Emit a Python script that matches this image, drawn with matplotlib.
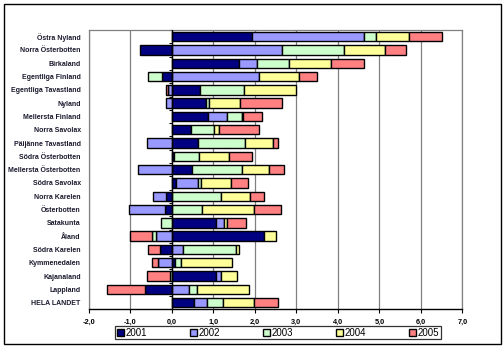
import numpy as np
import matplotlib
matplotlib.use("Agg")
import matplotlib.pyplot as plt
from matplotlib import ticker
from matplotlib.patches import Rectangle

# regioner, uppifran och ner
regioner = ["Östra Nyland", "Norra Österbotten", "Birkaland", "Egentliga Finland",
            "Egentliga Tavastland", "Nyland", "Mellersta Finland", "Norra Savolax",
            "Päijänne Tavastland", "Södra Österbotten", "Mellersta Österbotten",
            "Södra Savolax", "Norra Karelen", "Österbotten", "Satakunta", "Åland",
            "Södra Karelen", "Kymmenedalen", "Kajanaland", "Lappland", "HELA LANDET"]

ar = ["2001", "2002", "2003", "2004", "2005"]

v2001 = [1.93, -0.77, 1.62, -0.23, 0.68, 0.83, 0.87, 0.46, 0.63, 0.05, 0.49,
         0.10, -0.14, -0.16, 1.07, 2.23, -0.28, 0.08, 1.05, -0.65, 0.52]
v2002 = [2.70, 2.65, 0.43, 2.09, -0.10, -0.15, 0.46, 0.00, -0.60, 0.00, -0.82,
         0.52, -0.31, -0.88, 0.18, -0.38, 0.27, -0.33, 0.14, 0.40, 0.33]
v2003 = [0.30, 1.50, 0.77, -0.34, 1.06, 0.06, 0.35, 0.55, 1.14, 0.60, 1.21,
         0.07, 1.19, 0.73, -0.27, -0.10, 1.28, 0.14, -0.05, 0.21, 0.37]
v2004 = [0.79, 0.99, 1.01, 0.97, 1.26, 0.75, 0.03, 0.12, 0.67, 0.72, 0.65,
         0.74, 0.68, 1.26, 0.07, 0.29, 0.07, 1.22, 0.37, 1.24, 0.75]
v2005 = [0.79, 0.51, 0.80, 0.44, -0.04, 1.01, 0.47, 0.97, 0.12, 0.55, 0.34,
         0.41, 0.36, 0.63, 0.47, -0.54, -0.30, -0.15, -0.56, -0.91, 0.58]

farger = ["#000080", "#9999FF", "#CCFFCC", "#FFFF99", "#FF8080"]

plt.rcParams['font.family'] = ['Liberation Sans', 'DejaVu Sans']

fig = plt.figure(figsize=(5.04, 3.49), dpi=100)
ax = fig.add_axes([89 / 504, 1 - 309.3 / 349, (462.3 - 89) / 504, (309.3 - 30) / 349])

y = np.arange(len(regioner))
pos = np.zeros(len(regioner))
neg = np.zeros(len(regioner))
for serie, farg, namn in zip([v2001, v2002, v2003, v2004, v2005], farger, ar):
    v = np.array(serie)
    start = np.where(v >= 0, pos, neg)
    ax.barh(y, v, left=start, height=0.7, color=farg, edgecolor='black',
            linewidth=1.0, label=namn, zorder=3)
    pos = pos + np.where(v >= 0, v, 0)
    neg = neg + np.where(v < 0, v, 0)

ax.set_xlim(-2, 7)
ax.set_ylim(len(regioner) - 0.5, -0.5)
ax.set_xticks(np.arange(-2, 8, 1))
ax.xaxis.set_major_formatter(ticker.FuncFormatter(lambda x, p: f"{x:.1f}".replace('.', ',')))
ax.tick_params(axis='x', direction='out', length=3, width=0.8, pad=4, labelsize=5.3)
for lbl in ax.get_xticklabels():
    lbl.set_fontweight('bold')

ax.set_yticks(y)
ax.set_yticklabels(regioner, fontsize=5.0, fontweight='bold', color='#1a1a2e')
ax.tick_params(axis='y', length=0, pad=6)

ax.grid(axis='x', color='#808080', linewidth=0.9, zorder=0)
for s in ['left', 'top', 'right']:
    ax.spines[s].set_color('#808080')
    ax.spines[s].set_linewidth(0.9)
ax.spines['bottom'].set_color('black')
ax.spines['bottom'].set_linewidth(1.0)

# kategoriaxeln vid 0
ax.axvline(0, color='black', linewidth=1.0, zorder=4)
sek = ax.secondary_yaxis(2 / 9)
sek.set_yticks(np.arange(len(regioner) + 1) - 0.5)
sek.set_yticklabels([])
sek.tick_params(axis='y', direction='out', length=2, width=0.8, color='black')
sek.spines['left'].set_visible(False)

leg = fig.legend(loc='center', bbox_to_anchor=(278 / 504, 1 - 332.5 / 349), ncol=5,
                 fontsize=7, frameon=True, fancybox=False, edgecolor='black',
                 handlelength=0.7, handleheight=0.7, handletextpad=0.2,
                 columnspacing=4.4, borderpad=0.2)
leg.get_frame().set_linewidth(0.9)

fig.patches.append(Rectangle((4 / 504, 1 - 344 / 349), 497 / 504, 340 / 349,
                             transform=fig.transFigure, fill=False,
                             edgecolor='black', linewidth=1.0))

fig.savefig("out.png", dpi=100)
